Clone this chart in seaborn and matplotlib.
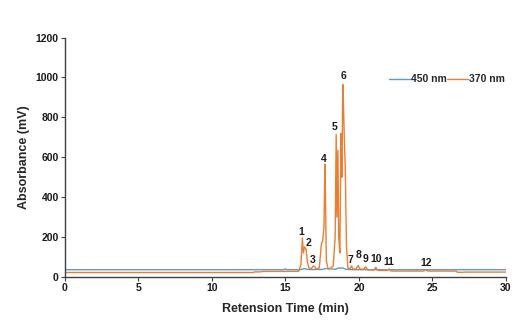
import matplotlib
matplotlib.use("Agg")
import matplotlib.pyplot as plt
import seaborn as sns
import pandas as pd

# 370 nm trace (orange): retention time (min) and absorbance (mV)
t370 = [0, 12.8, 12.9, 13.3, 13.4, 15.9, 16.05, 16.15, 16.22, 16.3,
        16.4, 16.5, 16.6, 16.75, 16.9, 17.0, 17.1, 17.3, 17.45, 17.52,
        17.62, 17.68, 17.72, 17.78, 17.9, 18.1, 18.25, 18.38, 18.45, 18.5,
        18.57, 18.62, 18.7, 18.78, 18.84, 18.9, 18.95, 19.0, 19.07, 19.15,
        19.25, 19.4, 19.5, 19.6, 19.8, 19.95, 20.05, 20.3, 20.45, 20.6,
        21.0, 21.15, 21.25, 21.4, 21.9, 22.05, 22.15, 22.3, 24.4, 24.55,
        24.7, 26.6, 26.7, 27.1, 27.2, 30]
a370 = [22, 22, 25, 25, 27, 28, 60, 195, 120, 150,
        140, 70, 45, 40, 55, 50, 38, 45, 170, 175,
        250, 565, 400, 80, 40, 45, 55, 200, 715, 300,
        635, 200, 120, 720, 500, 965, 850, 700, 535, 150,
        45, 40, 55, 38, 40, 58, 40, 38, 50, 35,
        34, 48, 34, 32, 32, 40, 30, 29, 29, 36,
        29, 29, 23, 23, 24, 24]

# 450 nm trace (blue)
t450 = [0, 14.9, 15.0, 15.1, 16.0, 16.3, 16.5, 17.5, 17.7, 18.4, 18.6, 18.9, 19.1, 19.5, 30]
a450 = [36, 36, 40, 36, 36, 42, 37, 37, 42, 38, 44, 45, 38, 36, 36]

# Peak numbers and label positions
peak_ids = ["1", "2", "3", "4", "5", "6", "7", "8", "9", "10", "11", "12"]
peak_t = [16.1, 16.6, 16.88, 17.63, 18.37, 18.92, 19.42, 19.97, 20.45, 21.2, 22.06, 24.55]
peak_y = [225, 170, 83, 592, 753, 1005, 83, 108, 88, 88, 73, 70]

x_ticks = [0, 5, 10, 15, 20, 25, 30]
y_ticks = [0, 200, 400, 600, 800, 1000, 1200]

sns.set_style("ticks")
plt.rcParams["font.family"] = ["Liberation Sans", "DejaVu Sans"]
plt.rcParams["font.weight"] = "bold"

df = pd.concat([
    pd.DataFrame({"time": t450, "abs": a450, "channel": "450 nm"}),
    pd.DataFrame({"time": t370, "abs": a370, "channel": "370 nm"}),
])

fig = plt.figure(figsize=(5.2, 3.3), dpi=100)
ax = fig.add_axes([0.125, 0.161, 0.848, 0.725])

sns.lineplot(data=df, x="time", y="abs", hue="channel", sort=False,
             estimator=None, palette={"450 nm": "#5B9BD5", "370 nm": "#ED7D31"},
             linewidth=1.0, ax=ax)

for lab, tx, ty in zip(peak_ids, peak_t, peak_y):
    ax.text(tx, ty, lab, ha="center", va="center", fontsize=7.5,
            fontweight="bold", color="#1a1a1a")

ax.set_xlim(0, 30)
ax.set_ylim(0, 1200)
ax.set_xticks(x_ticks)
ax.set_yticks(y_ticks)
ax.tick_params(axis="both", labelsize=7.5, length=3, width=0.8,
               colors="#404040", labelcolor="#1a1a1a", pad=1.5)
for lbl in ax.get_xticklabels() + ax.get_yticklabels():
    lbl.set_fontweight("bold")

ax.set_xlabel("Retension Time (min)", fontsize=9, fontweight="bold", labelpad=7)
ax.set_ylabel("Absorbance (mV)", fontsize=9, fontweight="bold", labelpad=4)

for side in ("top", "right"):
    ax.spines[side].set_visible(False)
for side in ("left", "bottom"):
    ax.spines[side].set_color("#404040")
    ax.spines[side].set_linewidth(1.0)

leg = ax.legend(loc="center right", bbox_to_anchor=(1.01, 0.826), ncol=2,
                frameon=False, fontsize=7.5, handlelength=2.0,
                handletextpad=0.1, columnspacing=0.1, borderpad=0)
for txt in leg.get_texts():
    txt.set_fontweight("bold")

fig.savefig("out.png", dpi=100)
